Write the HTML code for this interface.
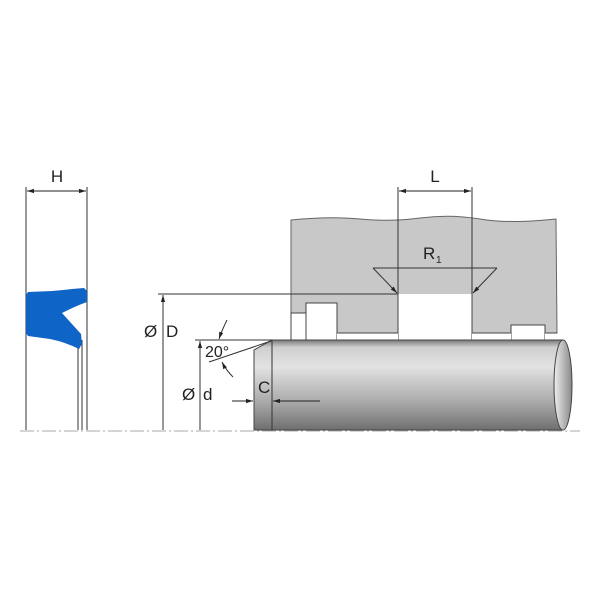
<!DOCTYPE html><html><head><style>body{margin:0;background:#fff}svg{display:block}text{font-family:"Liberation Sans",sans-serif;fill:#222}</style></head><body>
<svg width="600" height="600" viewBox="0 0 600 600">
<defs>
<linearGradient id="g" x1="0" y1="0" x2="0" y2="1">
<stop offset="0" stop-color="#777"/><stop offset="0.08" stop-color="#cfcfcf"/><stop offset="0.3" stop-color="#e2e2e2"/><stop offset="0.7" stop-color="#a8a8a8"/><stop offset="1" stop-color="#6f6f6f"/></linearGradient>
<linearGradient id="ge" x1="0" y1="0" x2="1" y2="0"><stop offset="0" stop-color="#eee"/><stop offset="1" stop-color="#888"/></linearGradient>
<marker id="a" viewBox="0 0 10 10" refX="10" refY="5" markerWidth="7" markerHeight="7" orient="auto-start-reverse"><path d="M0,2L10,5L0,8z" fill="#222"/></marker>
</defs>
<!-- centerline -->
<line x1="20" y1="431" x2="580" y2="431" stroke="#aaa" stroke-width="1" stroke-dasharray="14,3,2,3"/>
<!-- housing -->
<path d="M291,220 Q330,216 360,219 T420,218 T480,219 T556,219 L557,333 L291,333 Z" fill="#c8c8c8" stroke="#666" stroke-width="1"/>
<rect x="398" y="294" width="74" height="46" fill="#fff"/>
<line x1="398" y1="294" x2="398" y2="340" stroke="#444"/><line x1="472" y1="294" x2="472" y2="340" stroke="#444"/>
<rect x="291" y="313" width="15" height="27" fill="#fff" stroke="#444"/>
<rect x="306" y="303" width="31" height="37" fill="#fff" stroke="#444"/>
<rect x="511" y="325" width="34" height="15" fill="#fff" stroke="#444"/>
<rect x="337" y="333" width="61" height="7" fill="#fff"/><rect x="472" y="333" width="39" height="7" fill="#fff"/><rect x="545" y="333" width="12" height="7" fill="#fff"/>
<line x1="337" y1="333" x2="398" y2="333" stroke="#444"/><line x1="472" y1="333" x2="511" y2="333" stroke="#444"/><line x1="545" y1="333" x2="557" y2="333" stroke="#444"/>
<!-- shaft -->
<path d="M272,340 L563,340 L563,430 L254,430 L254,350 Z" fill="url(#g)" stroke="#444"/>
<line x1="272" y1="340" x2="272" y2="430" stroke="#333"/>
<ellipse cx="563" cy="385" rx="9" ry="45" fill="url(#ge)" stroke="#444"/>
<!-- seal -->
<line x1="26" y1="187" x2="26" y2="430" stroke="#333"/>
<line x1="87" y1="187" x2="87" y2="430" stroke="#333"/>
<line x1="78" y1="345" x2="78" y2="430" stroke="#333"/>
<line x1="82" y1="340" x2="82" y2="430" stroke="#333"/>
<path d="M28,292 L52,291 Q64,290 72,289 L84,288 L87,291 L87,302 Q78,305 62,313 L81,334 L82,344 L79,349 Q65,342 50,339 L28,336 L26,333 L26,295 Z" fill="#0f64c8"/>
<!-- H -->
<line x1="27" y1="191" x2="86" y2="191" stroke="#222" marker-start="url(#a)" marker-end="url(#a)"/>
<text x="57" y="182" font-size="17" text-anchor="middle">H</text>
<!-- L -->
<line x1="398" y1="187" x2="398" y2="294" stroke="#333"/><line x1="472" y1="187" x2="472" y2="294" stroke="#333"/>
<line x1="399" y1="191" x2="471" y2="191" stroke="#222" marker-start="url(#a)" marker-end="url(#a)"/>
<text x="435" y="182" font-size="17" text-anchor="middle">L</text>
<!-- R1 -->
<text x="423" y="259" font-size="17">R</text><text x="436" y="263" font-size="10">1</text>
<line x1="373" y1="268" x2="497" y2="268" stroke="#333"/>
<line x1="373" y1="268" x2="397" y2="293" stroke="#333" marker-end="url(#a)"/>
<line x1="497" y1="268" x2="473" y2="293" stroke="#333" marker-end="url(#a)"/>
<!-- D -->
<line x1="158" y1="294" x2="398" y2="294" stroke="#333"/>
<line x1="163" y1="430" x2="163" y2="295" stroke="#333" marker-end="url(#a)"/>
<text x="144" y="337" font-size="17">Ø</text><text x="166" y="337" font-size="17">D</text>
<!-- d -->
<line x1="195" y1="340" x2="272" y2="340" stroke="#333"/>
<line x1="200" y1="430" x2="200" y2="341" stroke="#333" marker-end="url(#a)"/>
<text x="182" y="400" font-size="17">Ø</text><text x="203" y="400" font-size="17">d</text>
<!-- 20° -->
<line x1="209" y1="362" x2="271" y2="341" stroke="#333"/>
<path d="M227,320 Q222,330 219,339" fill="none" stroke="#333" marker-end="url(#a)"/>
<path d="M233,377 Q226,370 222,362" fill="none" stroke="#333" marker-end="url(#a)"/>
<text x="205" y="357" font-size="16">20°</text>
<!-- C -->
<text x="258" y="393" font-size="17">C</text>
<line x1="232" y1="401" x2="253" y2="401" stroke="#222" marker-end="url(#a)"/>
<line x1="320" y1="401" x2="273" y2="401" stroke="#222" marker-end="url(#a)"/>
</svg></body></html>
